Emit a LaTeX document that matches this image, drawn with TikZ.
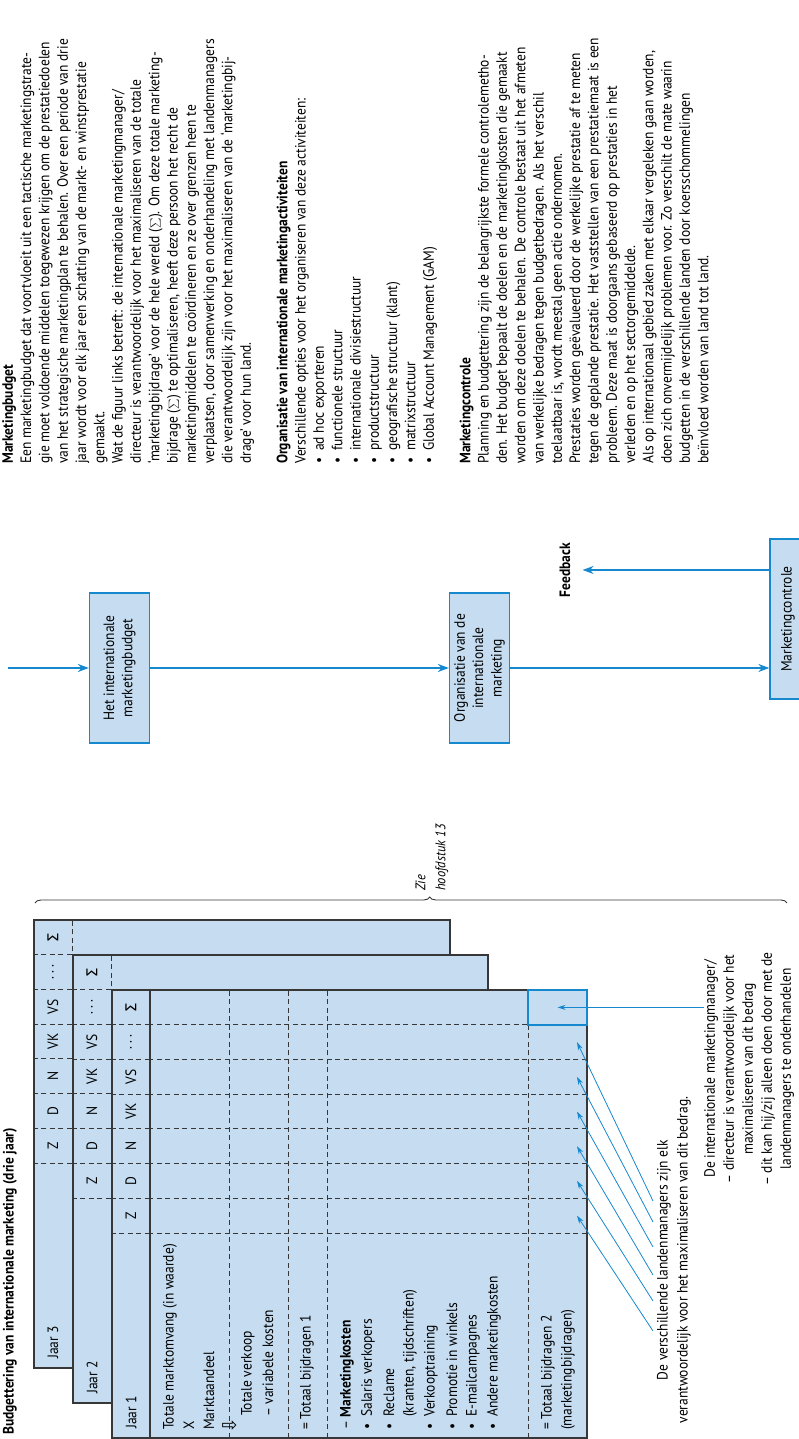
\documentclass[tikz,border=0pt]{standalone}
\usepackage{fontspec}
\setmainfont{PT Sans}[FakeStretch=0.9]
\newfontfamily\arrowfont{DejaVu Sans}
\usetikzlibrary{positioning,calc,arrows.meta,decorations.pathreplacing}

\definecolor{sheetblue}{RGB}{198,221,241}
\definecolor{flowblue}{RGB}{22,136,206}
\definecolor{framegray}{RGB}{55,55,55}
\newcommand\punt{\makebox[13pt][l]{\textbullet}}

\begin{document}
\begin{tikzpicture}[x=1pt,y=1pt,rotate=90,transform shape,
    every node/.style={inner sep=0pt,font=\fontsize{15}{18.3}\selectfont},
    sheet/.style={draw=framegray,line width=1.2pt,fill=sheetblue},
    gridline/.style={framegray,line width=0.8pt,dash pattern=on 5pt off 3.5pt},
    rowtext/.style={anchor=west},
    flowbox/.style={draw=flowblue,line width=1.3pt,fill=sheetblue,align=center,
      minimum width=150pt,minimum height=60pt},
    flow/.style={flowblue,line width=1.6pt,-{Stealth[length=11pt,width=8pt]}},
    hint/.style={flowblue,line width=0.8pt,-{Stealth[length=8pt,width=5pt]}}]

  \useasboundingbox (0,0) rectangle (1439,799);
  \clip (0,0) rectangle (1439,799);

  \node[anchor=west,font=\fontsize{15}{18.3}\selectfont\bfseries] (titel) at (4,789)
    {Budgettering van internationale marketing (drie jaar)};

  % drie jaren, achterste blad eerst
  \foreach \j/\dx/\dy/\bot in {3/70/78/349,2/35/39/311,1/0/0/212}{
    \draw[sheet] (1+\dx,\bot) rectangle (449+\dx,687+\dy);
    \draw[gridline] (1+\dx,649+\dy) -- (449+\dx,649+\dy);
    \node[rowtext] (jaar\j) at (10+\dx,668+\dy) {Jaar \j};
    \foreach \t [count=\i from 0] in {Z,D,N,VK,VS,{.\hspace{3pt}.\hspace{3pt}.},{\arrowfont Σ}}{
      \draw[gridline] (206+\dx+\i*34.7,649+\dy) -- ++(0,38);
      \node (kop\j\i) at (223.35+\dx+\i*34.7,668+\dy) {\t};
    }
  }

  % jaar 1: raster
  \draw[framegray,line width=1.2pt] (1,649) -- (449,649);
  \foreach \i in {0,...,6}
    \draw[gridline] (206+\i*34.7,212) -- (206+\i*34.7,649);
  \foreach \y in {570,511,472,271}
    \draw[gridline] (1,\y) -- (449,\y);

  \node[rowtext] (omvang) at (9,629) {Totale marktomvang (in waarde)};
  \node[rowtext] (maal) at (9,610) {X};
  \node[rowtext] (aandeel) at (9,590) {Marktaandeel};
  \node[rowtext,font=\arrowfont\fontsize{19}{19}\selectfont] (pijl) at (5,569) {⇩};
  \node[rowtext] (verkoop) at (23,551) {Totale verkoop};
  \node[rowtext] (variabel) at (22,531) {– variabele kosten};
  \node[rowtext] (bijdrage1) at (9,492) {= Totaal bijdragen 1};
  \node[rowtext] (mkosten) at (9,452) {– \textbf{Marketingkosten}};
  \node[rowtext] (salaris) at (9,431) {\punt Salaris verkopers};
  \node[rowtext] (reclame) at (9,410) {\punt Reclame};
  \node[rowtext] (kranten) at (22,389) {(kranten, tijdschriften)};
  \node[rowtext] (training) at (9,368) {\punt Verkooptraining};
  \node[rowtext] (promotie) at (9,347) {\punt Promotie in winkels};
  \node[rowtext] (email) at (9,326) {\punt E-mailcampagnes};
  \node[rowtext] (andere) at (9,305) {\punt Andere marketingkosten};
  \node[rowtext] (bijdrage2) at (9,251) {= Totaal bijdragen 2};
  \node[rowtext] (mbijdrage) at (9,231) {(marketingbijdragen)};

  \node[draw=flowblue,line width=2.2pt,minimum width=34.7pt,minimum height=59pt] (totaal) at (431.6,241.5) {};

  % toelichting onder de tabel
  \node[align=center,font=\fontsize{15}{20}\selectfont] (landen) at (179,125)
    {De verschillende landenmanagers zijn elk\\verantwoordelijk voor het maximaliseren van dit bedrag.};
  \node[align=center,font=\fontsize{15}{19}\selectfont] (manager) at (370,50)
    {De internationale marketingmanager/\\
     – directeur is verantwoordelijk voor het\\
     maximaliseren van dit bedrag\\
     – dit kan hij/zij alleen doen door met de\\
     landenmanagers te onderhandelen};

  \draw[hint] (manager.north -| totaal) -- (totaal.center);
  \foreach \i/\tx in {0/108,1/138,2/164,3/192,4/217,5/238}{
    \coordinate (staart\i) at (\tx,146);
    \coordinate (doel\i) at (223.35+\i*34.7,222);
    \draw[hint] (staart\i) -- (doel\i);
  }

  % accolade
  \draw[framegray,line width=0.9pt,decorate,decoration={brace,amplitude=6pt,aspect=0.525}]
    (536,764) -- (536,12);
  \node[anchor=west,align=left,font=\fontsize{14}{20}\selectfont\itshape] (zie) at (548,367)
    {Zie\\hoofdstuk 13};

  % proces
  \coordinate (start) at (771,791);
  \node[flowbox] (budget) at (771,679.5) {Het internationale\\marketingbudget};
  \node[flowbox] (organisatie) at (771,319.5) {Organisatie van de\\internationale\\marketing};
  \node[flowbox,minimum width=160pt,minimum height=36pt] (controle) at (820,11) {Marketingcontrole};
  \node[font=\fontsize{15}{18}\selectfont\bfseries] (feedback) at (869,234) {Feedback};

  \draw[flow] (start) -- (budget);
  \draw[flow] (budget) -- (organisatie);
  \draw[flow] (organisatie.south) -- (organisatie.south |- controle.north);
  \draw[flow,shorten >=12pt] (controle.north -| feedback) -- (feedback.south);

  % tekst rechts
  \node[anchor=north west,align=left] (tekst) at (975,797)
    {\textbf{Marketingbudget}\\
     Een marketingbudget dat voortvloeit uit een tactische marketingstrate-\\
     gie moet voldoende middelen toegewezen krijgen om de prestatiedoelen\\
     van het strategische marketingplan te behalen. Over een periode van drie\\
     jaar wordt voor elk jaar een schatting van de markt- en winstprestatie\\
     gemaakt.\\
     Wat de figuur links betreft: de internationale marketingmanager/\\
     directeur is verantwoordelijk voor het maximaliseren van de totale\\
     `marketingbijdrage' voor de hele wereld (\(\sum\)). Om deze totale marketing-\\
     bijdrage (\(\sum\)) te optimaliseren, heeft deze persoon het recht de\\
     marketingmiddelen te coördineren en ze over grenzen heen te\\
     verplaatsen, door samenwerking en onderhandeling met landenmanagers\\
     die verantwoordelijk zijn voor het maximaliseren van de `marketingbij-\\
     drage' voor hun land.\\[18.3pt]
     \textbf{Organisatie van internationale marketingactiviteiten}\\
     Verschillende opties voor het organiseren van deze activiteiten:\\
     \punt ad hoc exporteren\\
     \punt functionele structuur\\
     \punt internationale divisiestructuur\\
     \punt productstructuur\\
     \punt geografische structuur (klant)\\
     \punt matrixstructuur\\
     \punt Global Account Management (GAM)\\[18.3pt]
     \textbf{Marketingcontrole}\\
     Planning en budgettering zijn de belangrijkste formele controlemetho-\\
     den. Het budget bepaalt de doelen en de marketingkosten die gemaakt\\
     worden om deze doelen te behalen. De controle bestaat uit het afmeten\\
     van werkelijke bedragen tegen budgetbedragen. Als het verschil\\
     toelaatbaar is, wordt meestal geen actie ondernomen.\\
     Prestaties worden geëvalueerd door de werkelijke prestatie af te meten\\
     tegen de geplande prestatie. Het vaststellen van een prestatiemaat is een\\
     probleem. Deze maat is doorgaans gebaseerd op prestaties in het\\
     verleden en op het sectorgemiddelde.\\
     Als op internationaal gebied zaken met elkaar vergeleken gaan worden,\\
     doen zich onvermijdelijk problemen voor. Zo verschilt de mate waarin\\
     budgetten in de verschillende landen door koersschommelingen\\
     beïnvloed worden van land tot land.};
\end{tikzpicture}
\end{document}
